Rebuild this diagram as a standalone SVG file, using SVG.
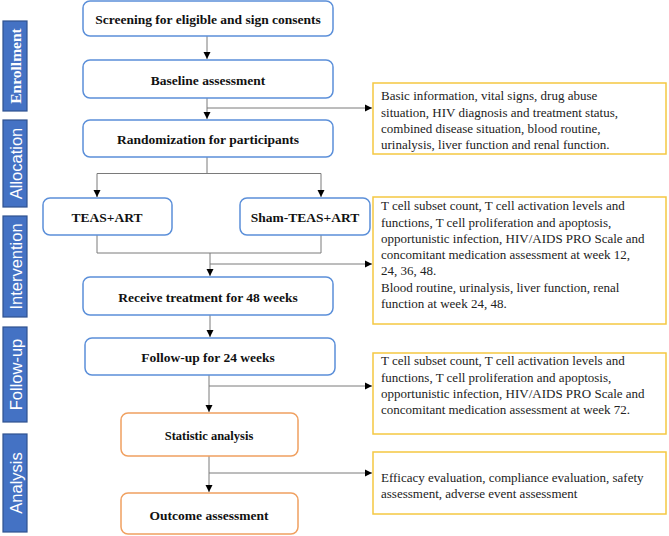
<svg xmlns="http://www.w3.org/2000/svg" width="669" height="536" viewBox="0 0 669 536">
<style>
.side{fill:#4472C4;stroke:#2F528F;stroke-width:1.2}
.st{fill:#fff;font-family:"Liberation Sans",Arial,sans-serif;font-size:16.5px;text-anchor:middle;dominant-baseline:central}
.stb{fill:#fff;font-family:"Liberation Serif","Times New Roman",serif;font-size:15.5px;font-weight:bold;text-anchor:middle;dominant-baseline:central}
.bx{fill:#fff;stroke:#5B8FD9;stroke-width:1.5}
.ob{fill:#fff;stroke:#F0A060;stroke-width:1.5}
.yb{fill:#fff;stroke:#F5C842;stroke-width:1.5}
.mt{font-family:"Liberation Serif","Times New Roman",serif;font-size:13.5px;font-weight:bold;text-anchor:middle;dominant-baseline:central;fill:#111}
.it{font-family:"Liberation Serif","Times New Roman",serif;font-size:13px;fill:#222}
.ln{fill:none;stroke:#7a7a7a;stroke-width:1}
</style>
<defs>
<marker id="ah" markerWidth="8" markerHeight="8" refX="7" refY="4" orient="auto" markerUnits="userSpaceOnUse">
<path d="M0,0.5 L7,4 L0,7.5 Z" fill="#000"/>
</marker>
</defs>

<g id="sidebar">
<g id="s-enroll"><rect class="side" x="3" y="21" width="24" height="90"/><text class="stb" transform="translate(15.5,66) rotate(-90)">Enrollment</text></g>
<g id="s-alloc"><rect class="side" x="3" y="120" width="24" height="87"/><text class="st" transform="translate(15.5,163.5) rotate(-90)">Allocation</text></g>
<g id="s-interv"><rect class="side" x="3" y="216" width="24" height="101"/><text class="st" transform="translate(15.5,266.5) rotate(-90)">Intervention</text></g>
<g id="s-follow"><rect class="side" x="3" y="327" width="24" height="95"/><text class="st" transform="translate(15.5,374.5) rotate(-90)">Follow-up</text></g>
<g id="s-analysis"><rect class="side" x="3" y="434" width="24" height="98"/><text class="st" transform="translate(15.5,483) rotate(-90)">Analysis</text></g>
</g>

<g id="connectors">
<path class="ln" d="M207,36 V59" marker-end="url(#ah)"/>
<path class="ln" d="M207,98 V119" marker-end="url(#ah)"/>
<path class="ln" d="M207,108 H372" marker-end="url(#ah)"/>
<path class="ln" d="M207,157 V173.5 H97 V197"/>
<path class="ln" d="M97,190 V197" marker-end="url(#ah)"/>
<path class="ln" d="M207,173.5 H321 V197" marker-end="url(#ah)"/>
<path class="ln" d="M97,235 V253 H321 V235"/>
<path class="ln" d="M210,253 V276" marker-end="url(#ah)"/>
<path class="ln" d="M210,264 H372" marker-end="url(#ah)"/>
<path class="ln" d="M210,315 V337" marker-end="url(#ah)"/>
<path class="ln" d="M209,375 V412" marker-end="url(#ah)"/>
<path class="ln" d="M209,386 H372" marker-end="url(#ah)"/>
<path class="ln" d="M209,456 V492" marker-end="url(#ah)"/>
<path class="ln" d="M209,473 H372" marker-end="url(#ah)"/>
</g>

<g id="n-screen"><rect class="bx" x="83" y="1" width="250" height="35" rx="7"/><text class="mt" x="208" y="19">Screening for eligible and sign consents</text></g>
<g id="n-baseline"><rect class="bx" x="83" y="60" width="250" height="38" rx="7"/><text class="mt" x="208" y="80">Baseline assessment</text></g>
<g id="n-random"><rect class="bx" x="83" y="120" width="250" height="37" rx="7"/><text class="mt" x="208" y="139">Randomization for participants</text></g>
<g id="n-teas"><rect class="bx" x="43" y="198" width="129" height="37" rx="7"/><text class="mt" x="107" y="217">TEAS+ART</text></g>
<g id="n-sham"><rect class="bx" x="240" y="198" width="130" height="37" rx="7"/><text class="mt" x="305" y="217">Sham-TEAS+ART</text></g>
<g id="n-receive"><rect class="bx" x="83" y="277" width="250" height="38" rx="7"/><text class="mt" x="208" y="297">Receive treatment for 48 weeks</text></g>
<g id="n-follow"><rect class="bx" x="85" y="338" width="250" height="37" rx="7"/><text class="mt" x="208" y="357">Follow-up for 24 weeks</text></g>
<g id="n-stat"><rect class="ob" x="121" y="413" width="177" height="43" rx="7"/><text class="mt" x="209" y="436" style="font-size:12.5px">Statistic analysis</text></g>
<g id="n-outcome"><rect class="ob" x="121" y="493" width="177" height="41" rx="7"/><text class="mt" x="209" y="515">Outcome assessment</text></g>

<g id="i-baseline"><rect class="yb" x="373" y="83" width="293" height="71"/>
<text class="it"><tspan x="381" y="100">Basic information, vital signs, drug abuse</tspan><tspan x="381" y="116.5">situation, HIV diagnosis and treatment status,</tspan><tspan x="381" y="133">combined disease situation, blood routine,</tspan><tspan x="381" y="149">urinalysis, liver function and renal function.</tspan></text></g>

<g id="i-interv"><rect class="yb" x="373" y="197" width="293" height="127"/>
<text class="it"><tspan x="381" y="210">T cell subset count, T cell activation levels and</tspan><tspan x="381" y="226.5">functions, T cell proliferation and apoptosis,</tspan><tspan x="381" y="243">opportunistic infection, HIV/AIDS PRO Scale and</tspan><tspan x="381" y="259">concomitant medication assessment at week 12,</tspan><tspan x="381" y="275">24, 36, 48.</tspan><tspan x="381" y="291.5">Blood routine, urinalysis, liver function, renal</tspan><tspan x="381" y="307.5">function at week 24, 48.</tspan></text></g>

<g id="i-follow"><rect class="yb" x="373" y="353" width="293" height="81"/>
<text class="it"><tspan x="381" y="365">T cell subset count, T cell activation levels and</tspan><tspan x="381" y="381.5">functions, T cell proliferation and apoptosis,</tspan><tspan x="381" y="397.5">opportunistic infection, HIV/AIDS PRO Scale and</tspan><tspan x="381" y="414">concomitant medication assessment at week 72.</tspan></text></g>

<g id="i-analysis"><rect class="yb" x="373" y="452" width="293" height="62"/>
<text class="it"><tspan x="381" y="482">Efficacy evaluation, compliance evaluation, safety</tspan><tspan x="381" y="498">assessment, adverse event assessment</tspan></text></g>
</svg>
